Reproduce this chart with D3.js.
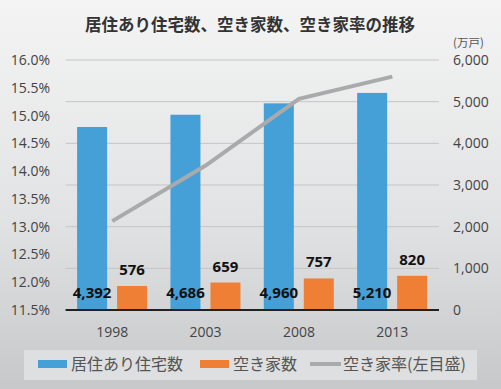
<!DOCTYPE html>
<html>
<head>
<meta charset="utf-8">
<script src="https://cdn.jsdelivr.net/npm/d3@7"></script>
<style>
  body { margin: 0; }
  svg text { font-family: 'Open Sans', 'Noto Sans CJK JP', sans-serif; }
</style>
</head>
<body>
<div id="chart"></div>
<script>
// data
var years = ['1998', '2003', '2008', '2013'];
var occupied = [4392, 4686, 4960, 5210];   // 居住あり住宅数 (万戸)
var vacant = [576, 659, 757, 820];          // 空き家数 (万戸)
var vacancyRate = [13.1, 14.1, 15.3, 15.7]; // 空き家率 (%)
var leftTicks = [11.5, 12.0, 12.5, 13.0, 13.5, 14.0, 14.5, 15.0, 15.5, 16.0];
var rightTicks = [0, 1000, 2000, 3000, 4000, 5000, 6000];

var svgWidth = 501;
var svgHeight = 389;

var plot = { left: 65.6, right: 439, top: 60, bottom: 310 };

var svg = d3
  .select('#chart')
  .append('svg')
  .attr('width', svgWidth)
  .attr('height', svgHeight);

// background gradient
var defs = svg.append('defs');
var grad = defs
  .append('linearGradient')
  .attr('id', 'bg')
  .attr('x1', 0).attr('y1', 0)
  .attr('x2', 0).attr('y2', 1);
grad.append('stop').attr('offset', '0%').attr('stop-color', '#f4f4f4');
grad.append('stop').attr('offset', '55%').attr('stop-color', '#e2e3e4');
grad.append('stop').attr('offset', '100%').attr('stop-color', '#c6c8ca');

svg.append('rect')
  .attr('width', svgWidth)
  .attr('height', svgHeight)
  .attr('fill', 'url(#bg)');

// scales
var xScale = d3.scaleBand().domain(years).range([plot.left, plot.right]);
var yRight = d3.scaleLinear().domain([0, 6000]).range([plot.bottom, plot.top]);
var yLeft = d3.scaleLinear().domain([11.5, 16]).range([plot.bottom, plot.top]);

var barWidth = 30;
var blueOffset = 11.5;
var orangeOffset = 51.5;

// gridlines
svg.append('g')
  .selectAll('line')
  .data(rightTicks.slice(1))
  .enter()
  .append('line')
  .attr('x1', plot.left)
  .attr('x2', plot.right)
  .attr('y1', (d) => yRight(d))
  .attr('y2', (d) => yRight(d))
  .attr('stroke', '#c4c5c6')
  .attr('stroke-width', 1);

// left axis labels
svg.append('g')
  .selectAll('text')
  .data(leftTicks)
  .enter()
  .append('text')
  .attr('x', 50)
  .attr('y', (d) => yLeft(d) + 5)
  .attr('text-anchor', 'end')
  .attr('font-size', 14)
  .attr('fill', '#444')
  .text((d) => d3.format('.1f')(d) + '%');

// right axis labels
svg.append('g')
  .selectAll('text')
  .data(rightTicks)
  .enter()
  .append('text')
  .attr('x', 453)
  .attr('y', (d) => yRight(d) + 5)
  .attr('font-size', 14)
  .attr('fill', '#444')
  .text((d) => d3.format(',')(d));

svg.append('text')
  .attr('x', 453)
  .attr('y', 47)
  .attr('font-size', 11.5)
  .attr('fill', '#555')
  .style('font-family', "'Noto Sans CJK JP', sans-serif")
  .text('(万戸)');

// bars
svg.append('g')
  .selectAll('rect')
  .data(years)
  .enter()
  .append('rect')
  .attr('x', (d) => xScale(d) + blueOffset)
  .attr('y', (d, i) => yRight(occupied[i]))
  .attr('width', barWidth)
  .attr('height', (d, i) => plot.bottom - yRight(occupied[i]))
  .attr('fill', '#45a0d8');

svg.append('g')
  .selectAll('rect')
  .data(years)
  .enter()
  .append('rect')
  .attr('x', (d) => xScale(d) + orangeOffset)
  .attr('y', (d, i) => yRight(vacant[i]))
  .attr('width', barWidth)
  .attr('height', (d, i) => plot.bottom - yRight(vacant[i]))
  .attr('fill', '#ee7f35');

// x axis line
svg.append('line')
  .attr('x1', plot.left)
  .attr('x2', plot.right)
  .attr('y1', plot.bottom)
  .attr('y2', plot.bottom)
  .attr('stroke', '#222')
  .attr('stroke-width', 2);

// x labels
svg.append('g')
  .selectAll('text')
  .data(years)
  .enter()
  .append('text')
  .attr('x', (d) => xScale(d) + xScale.bandwidth() / 2)
  .attr('y', 337)
  .attr('text-anchor', 'middle')
  .attr('font-size', 14)
  .attr('fill', '#444')
  .text((d) => d);

// vacancy rate line (left axis)
var line = d3
  .line()
  .x((d, i) => xScale(years[i]) + xScale.bandwidth() / 2)
  .y((d) => yLeft(d));

svg.append('path')
  .datum(vacancyRate)
  .attr('d', line)
  .attr('fill', 'none')
  .attr('stroke', '#a9aaab')
  .attr('stroke-width', 4);

// data labels
svg.append('g')
  .selectAll('text')
  .data(years)
  .enter()
  .append('text')
  .attr('x', (d) => xScale(d) + blueOffset + barWidth / 2)
  .attr('y', plot.bottom - 12)
  .attr('text-anchor', 'middle')
  .attr('font-size', 15)
  .attr('font-weight', 'bold')
  .attr('fill', '#111')
  .text((d, i) => d3.format(',')(occupied[i]));

svg.append('g')
  .selectAll('text')
  .data(years)
  .enter()
  .append('text')
  .attr('x', (d) => xScale(d) + orangeOffset + barWidth / 2)
  .attr('y', (d, i) => yRight(vacant[i]) - 11)
  .attr('text-anchor', 'middle')
  .attr('font-size', 15)
  .attr('font-weight', 'bold')
  .attr('fill', '#111')
  .text((d, i) => d3.format(',')(vacant[i]));

// title
svg.append('text')
  .attr('x', 250)
  .attr('y', 31)
  .attr('text-anchor', 'middle')
  .attr('font-size', 16.5)
  .attr('font-weight', 'bold')
  .attr('fill', '#333')
  .style('font-family', "'Noto Sans CJK JP', sans-serif")
  .text('居住あり住宅数、空き家数、空き家率の推移');

// legend
var legend = svg.append('g');
legend.append('rect')
  .attr('x', 24)
  .attr('y', 350)
  .attr('width', 453)
  .attr('height', 30)
  .attr('fill', '#dedfe0');

var legendItems = [
  { label: '居住あり住宅数', color: '#45a0d8', x: 38, type: 'rect' },
  { label: '空き家数', color: '#ee7f35', x: 200, type: 'rect' },
  { label: '空き家率(左目盛)', color: '#a9aaab', x: 310, type: 'line' },
];

legendItems.forEach(function (item) {
  if (item.type === 'rect') {
    legend.append('rect')
      .attr('x', item.x)
      .attr('y', 360)
      .attr('width', 29)
      .attr('height', 8)
      .attr('fill', item.color);
  } else {
    legend.append('line')
      .attr('x1', item.x)
      .attr('x2', item.x + 31)
      .attr('y1', 364)
      .attr('y2', 364)
      .attr('stroke', item.color)
      .attr('stroke-width', 4);
  }
  legend.append('text')
    .attr('x', item.x + 33)
    .attr('y', 370)
    .attr('font-size', 16)
    .attr('fill', '#555')
    .style('font-family', "'Noto Sans CJK JP', sans-serif")
    .text(item.label);
});
</script>
</body>
</html>
